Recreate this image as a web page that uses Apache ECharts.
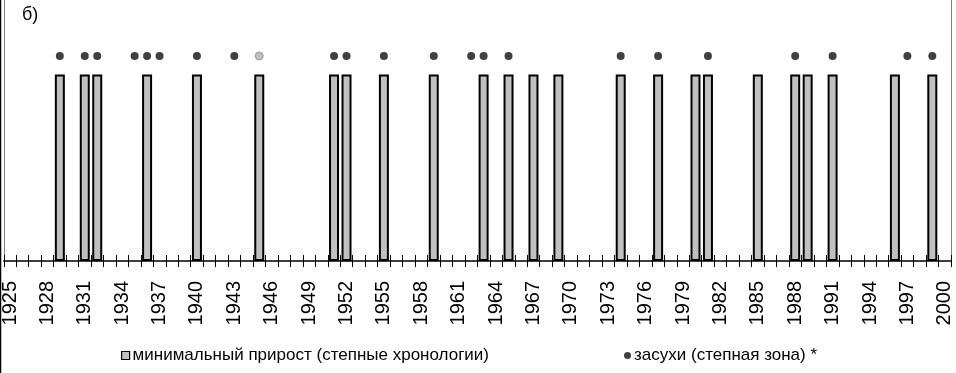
<!DOCTYPE html>
<html>
<head>
<meta charset="utf-8">
<script src="https://cdn.jsdelivr.net/npm/echarts@6/dist/echarts.min.js"></script>
<style>
html,body{margin:0;padding:0;background:#fff;}
#chart{width:956px;height:373px;}
</style>
</head>
<body>
<div id="chart"></div>
<script>
// Years on the category axis
var firstYear = 1925;
var lastYear = 2000;
// Years with minimal growth (steppe chronologies) – bars
var minGrowthYears = [1929, 1931, 1932, 1936, 1940, 1945, 1951, 1952, 1955, 1959, 1963, 1965, 1967, 1969, 1974, 1977, 1980, 1981, 1985, 1988, 1989, 1991, 1996, 1999];
// Drought years (steppe zone) – dots
var droughtYears = [1929, 1931, 1932, 1935, 1936, 1937, 1940, 1943, 1945, 1951, 1952, 1955, 1959, 1962, 1963, 1965, 1974, 1977, 1981, 1988, 1991, 1997, 1999];
// Drought years shown with a light (uncertain) marker
var uncertainDroughtYears = [1945];
// Indicator levels
var barLevel = 1;
var dotLevel = 1.1;
var seriesNames = ['минимальный прирост (степные хронологии)', 'засухи (степная зона) *'];
var panelLabel = 'б)';

var categories = [];
for (var y = firstYear; y <= lastYear; y++) categories.push(String(y));

var barData = minGrowthYears.map(function (yr) { return [String(yr), barLevel]; });
var dotData = droughtYears.map(function (yr) {
  if (uncertainDroughtYears.indexOf(yr) >= 0) {
    return { value: [String(yr), dotLevel], itemStyle: { color: '#c0c0c0', borderColor: '#9a9a9a', borderWidth: 1 } };
  }
  return [String(yr), dotLevel];
});

var FONT = "'Liberation Sans', Arial, sans-serif";
var chart = echarts.init(document.getElementById('chart'), null, { renderer: 'canvas' });
chart.setOption({
  animation: false,
  backgroundColor: '#fff',
  title: {
    text: panelLabel, left: 17, top: 1,
    textStyle: { fontFamily: FONT, fontSize: 18, fontWeight: 'normal', color: '#000' }
  },
  grid: { left: 2, right: 5, top: 0, bottom: 112, containLabel: false },
  legend: [
    {
      left: 116, top: 342, itemWidth: 8, itemHeight: 8, itemGap: 4,
      textStyle: { fontFamily: FONT, fontSize: 17, color: '#000', padding: [0, 0, 0, -2] },
      data: [{ name: seriesNames[0], icon: 'rect', itemStyle: { color: '#c0c0c0', borderColor: '#000', borderWidth: 1.2 } }]
    },
    {
      left: 619, top: 342, itemWidth: 7, itemHeight: 7, itemGap: 4,
      textStyle: { fontFamily: FONT, fontSize: 17, color: '#000', padding: [0, 0, 0, -2] },
      data: [{ name: seriesNames[1], icon: 'circle', itemStyle: { color: '#404040' } }]
    }
  ],
  xAxis: [
    {
      type: 'category', data: categories, position: 'bottom', boundaryGap: true,
      axisLine: { show: true, lineStyle: { color: '#000', width: 1.5 } },
      axisTick: { show: true, interval: 0, length: 6, inside: false, lineStyle: { color: '#000' } },
      axisLabel: { interval: 2, rotate: 90, margin: 20, fontFamily: FONT, fontSize: 20, color: '#000' },
      splitLine: { show: false }
    },
    {
      type: 'category', data: categories, position: 'bottom', boundaryGap: true,
      axisLine: { show: false },
      axisTick: { show: true, interval: 0, length: 6, inside: true, lineStyle: { color: '#000' } },
      axisLabel: { show: false },
      splitLine: { show: false }
    }
  ],
  yAxis: [
    {
      type: 'value', min: 0, max: 1.4, position: 'left',
      axisLine: { show: true, lineStyle: { color: '#808080' } },
      axisTick: { show: false }, axisLabel: { show: false }, splitLine: { show: false }
    },
    {
      type: 'value', min: 0, max: 1.4, position: 'right',
      axisLine: { show: true, lineStyle: { color: '#808080' } },
      axisTick: { show: false }, axisLabel: { show: false }, splitLine: { show: false }
    }
  ],
  graphic: [
    { type: 'line', shape: { x1: 0.5, y1: 0, x2: 0.5, y2: 373 }, style: { stroke: '#000', lineWidth: 1.5 }, z: 100 }
  ],
  series: [
    {
      name: seriesNames[0], type: 'bar', xAxisIndex: 0, yAxisIndex: 0,
      barWidth: 10, data: barData,
      itemStyle: { color: '#c0c0c0', borderColor: '#000', borderWidth: 2 }
    },
    {
      name: seriesNames[1], type: 'scatter', xAxisIndex: 0, yAxisIndex: 0,
      symbol: 'circle', symbolSize: 8, data: dotData,
      itemStyle: { color: '#404040', opacity: 1 }
    }
  ]
});
</script>
</body>
</html>
